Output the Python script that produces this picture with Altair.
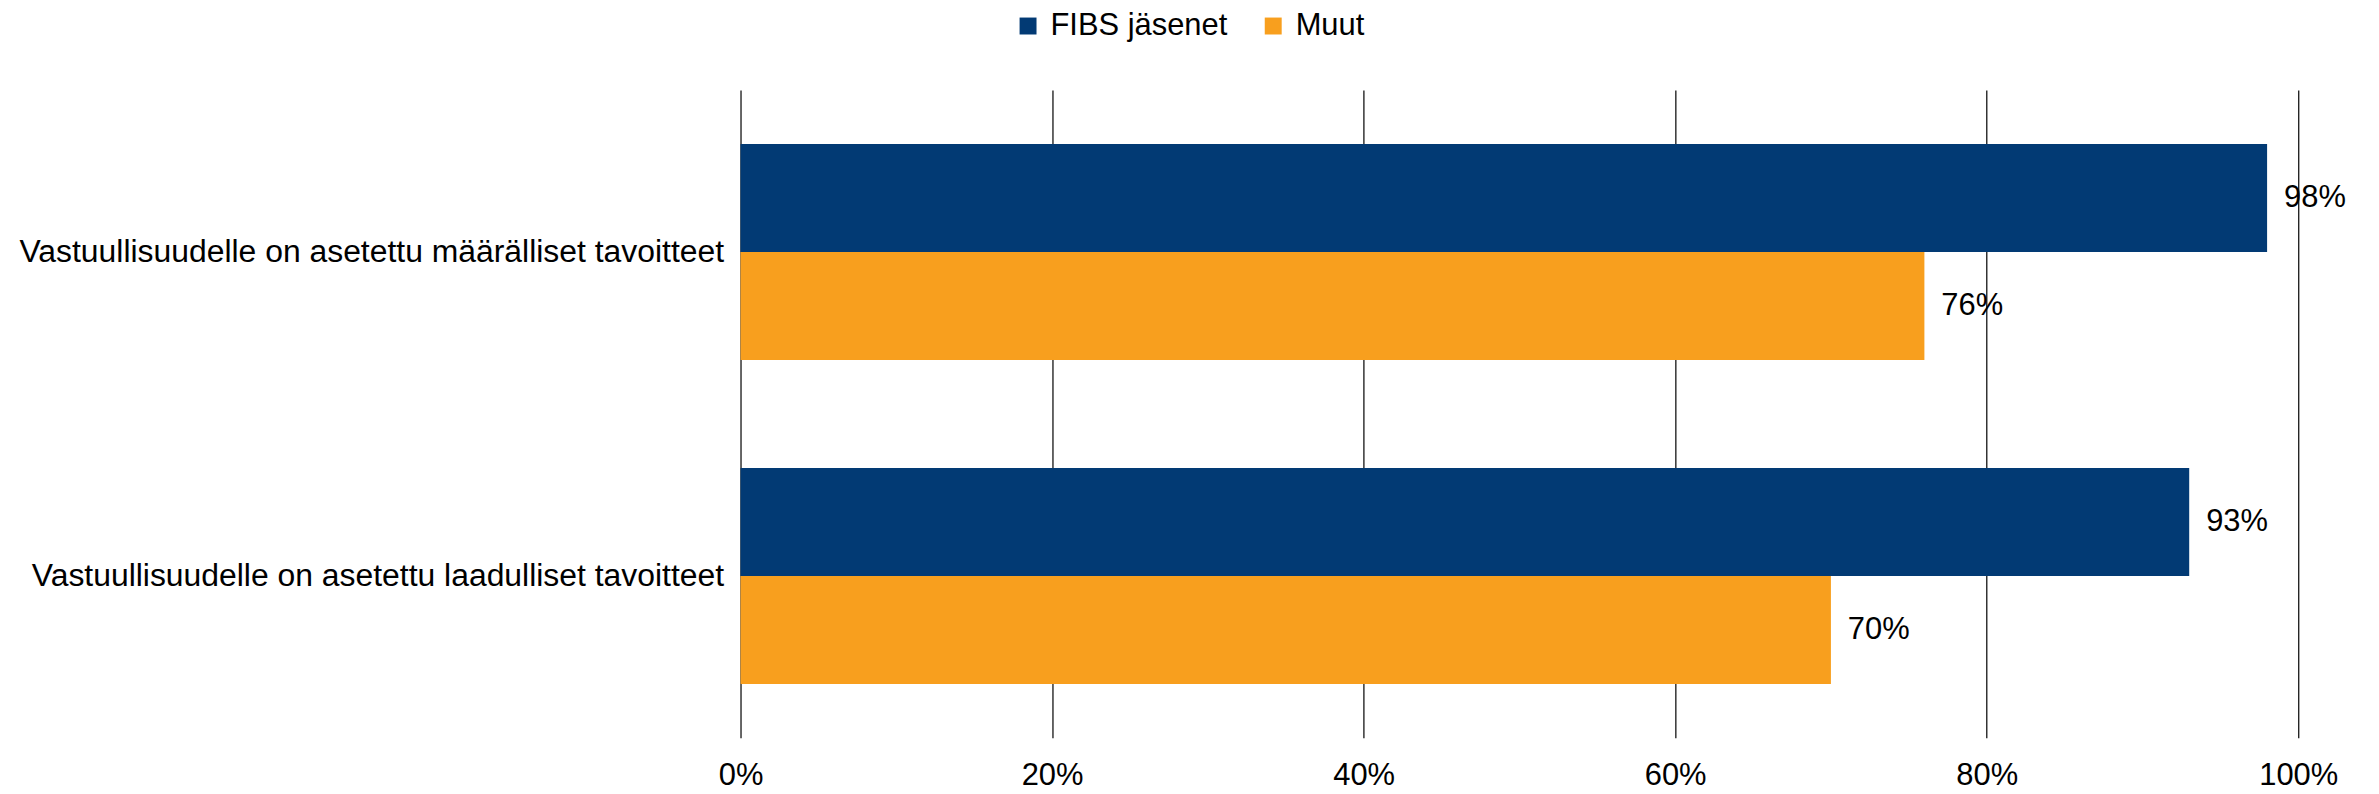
import altair as alt
import pandas as pd

categories = [
    "Vastuullisuudelle on asetettu määrälliset tavoitteet",
    "Vastuullisuudelle on asetettu laadulliset tavoitteet",
]
series = ["FIBS jäsenet", "Muut"]
fibs_values = [0.98, 0.93]
muut_values = [0.76, 0.70]
colors = ["#023A74", "#F89F1E"]
x_ticks = [0, 0.2, 0.4, 0.6, 0.8, 1.0]

rows = []
for i, c in enumerate(categories):
    rows.append({"Kategoria": c, "Sarja": series[0], "Arvo": fibs_values[i]})
    rows.append({"Kategoria": c, "Sarja": series[1], "Arvo": muut_values[i]})
df = pd.DataFrame(rows)

FONT = "Liberation Sans"

y_enc = alt.Y(
    "Kategoria:N",
    sort=categories,
    title=None,
    scale=alt.Scale(paddingInner=1 / 3, paddingOuter=1 / 6),
    axis=alt.Axis(
        labelFontSize=32,
        labelFont=FONT,
        labelColor="#000000",
        labelPadding=17,
        labelLimit=1000,
        ticks=False,
        domain=False,
        grid=False,
    ),
)
yoff_enc = alt.YOffset(
    "Sarja:N", sort=series, scale=alt.Scale(paddingInner=0, paddingOuter=0)
)
x_enc = alt.X(
    "Arvo:Q",
    title=None,
    scale=alt.Scale(domain=[0, 1], nice=False),
    axis=alt.Axis(
        values=x_ticks,
        format=".0%",
        labelFontSize=31,
        labelFont=FONT,
        labelColor="#000000",
        labelPadding=23,
        labelFlush=False,
        labelOverlap=False,
        ticks=False,
        domain=False,
        grid=True,
        gridColor="#000000",
        gridWidth=1.2,
        gridOpacity=1,
    ),
)

color_enc = alt.Color(
    "Sarja:N",
    sort=series,
    scale=alt.Scale(domain=series, range=colors),
    legend=alt.Legend(
        title=None,
        orient="none",
        legendX=273,
        legendY=-80,
        direction="horizontal",
        symbolType="square",
        symbolSize=289,
        symbolStrokeWidth=0,
        labelFontSize=31,
        labelFont=FONT,
        labelColor="#000000",
        labelOffset=7,
        columnPadding=30,
        labelLimit=500,
    ),
)

bars = alt.Chart(df).mark_bar().encode(
    y=y_enc, yOffset=yoff_enc, x=x_enc, color=color_enc
)

labels = alt.Chart(df).mark_text(
    align="left", baseline="middle", dx=17, fontSize=31, font=FONT, color="#000000"
).encode(
    y=alt.Y("Kategoria:N", sort=categories),
    yOffset=alt.YOffset("Sarja:N", sort=series),
    x=alt.X("Arvo:Q"),
    text=alt.Text("Arvo:Q", format=".0%"),
)

chart = (
    alt.layer(bars, labels)
    .properties(
        width=1563,
        height=650,
        background="#ffffff",
        autosize=alt.AutoSizeParams(type="none"),
        padding={"left": 735, "top": 81, "right": 73, "bottom": 55},
    )
    .configure_view(stroke=None, strokeWidth=0)
)

chart.save("out.html", embed_options={"renderer": "svg", "actions": False})
